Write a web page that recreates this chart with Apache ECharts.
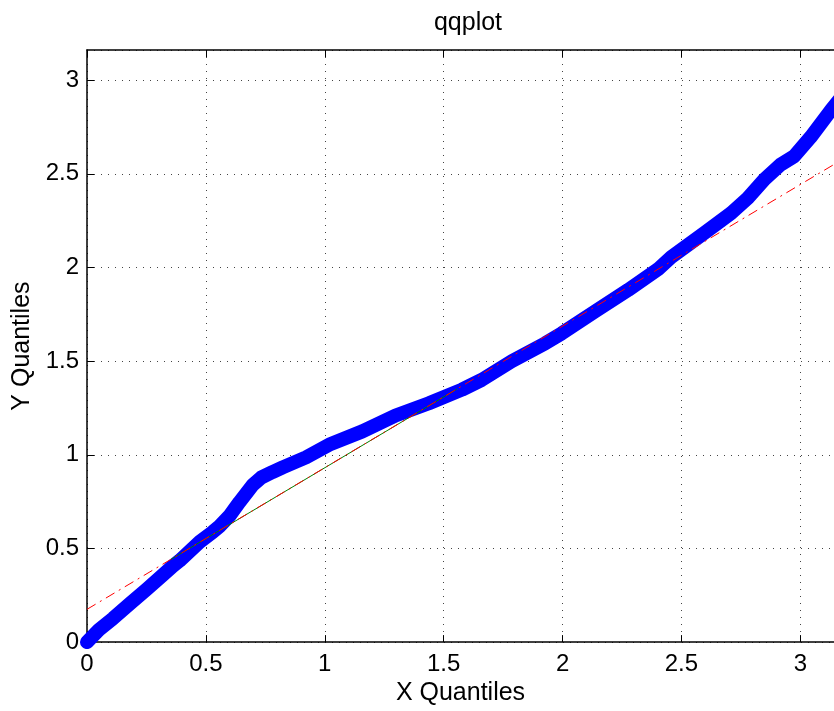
<!DOCTYPE html>
<html>
<head>
<meta charset="utf-8">
<script src="https://cdn.jsdelivr.net/npm/echarts@6/dist/echarts.min.js"></script>
<style>
  html, body { margin: 0; padding: 0; background: #fff; }
  #chart { width: 834px; height: 711px; }
</style>
</head>
<body>
<div id="chart"></div>
<script>
// Sample quantiles (x = theoretical, y = observed)
const sampleX = [0.000, 0.050, 0.110, 0.180, 0.250, 0.320, 0.360, 0.390, 0.474, 0.529, 0.557, 0.600, 0.641, 0.697, 0.732, 0.780, 0.823, 0.921, 1.025, 1.158, 1.298, 1.438, 1.577, 1.660, 1.787, 1.927, 1.996, 2.136, 2.276, 2.401, 2.457, 2.597, 2.709, 2.779, 2.849, 2.918, 2.974, 3.044, 3.128, 3.180];
const sampleY = [0.000, 0.065, 0.127, 0.205, 0.281, 0.360, 0.405, 0.435, 0.535, 0.588, 0.618, 0.675, 0.747, 0.839, 0.878, 0.908, 0.933, 0.986, 1.058, 1.125, 1.210, 1.275, 1.348, 1.400, 1.500, 1.595, 1.648, 1.765, 1.880, 1.990, 2.055, 2.185, 2.290, 2.370, 2.470, 2.550, 2.594, 2.697, 2.838, 2.920];

// Reference line through the first and third quartiles
const quartileX = [0.351, 1.556];
const quartileY = [0.440, 1.351];

// Same line extended across the whole x range
const extendedX = [0, 3.1416];
const extendedY = [0.175, 2.550];

// Axis settings
const xRange = [0, 3.1416];
const yRange = [0, 3.161];
const tickStep = 0.5;

const zip = (xs, ys) => xs.map((x, i) => [x, ys[i]]);

const FONT = 'Liberation Sans, Arial, Helvetica, sans-serif';
const gridLine = { show: true, lineStyle: { color: '#444', width: 1, type: [1, 6] } };
const tickLabelFmt = v => (Math.abs(v / tickStep - Math.round(v / tickStep)) < 1e-6 ? String(+v.toFixed(2)) : '');

const chart = echarts.init(document.getElementById('chart'), null, { renderer: 'canvas' });

chart.setOption({
  animation: false,
  backgroundColor: '#ffffff',
  title: {
    text: 'qqplot',
    left: 463,
    top: 6,
    textAlign: 'center',
    textStyle: { fontFamily: FONT, fontSize: 25, fontWeight: 'normal', color: '#000' }
  },
  grid: { left: 87, top: 50, right: -2.5, bottom: 66.5, containLabel: false },
  xAxis: [
    {
      type: 'value', position: 'bottom',
      min: xRange[0], max: xRange[1], interval: tickStep,
      name: 'X Quantiles', nameLocation: 'middle', nameGap: 33,
      nameTextStyle: { fontFamily: FONT, fontSize: 25, color: '#000' },
      axisLine: { show: true, onZero: false, lineStyle: { color: '#000', width: 1.5 } },
      axisTick: { show: true, inside: true, length: 7, lineStyle: { color: '#000' } },
      axisLabel: { fontFamily: FONT, fontSize: 24, color: '#000', margin: 10, showMaxLabel: false, formatter: tickLabelFmt },
      splitLine: gridLine
    },
    {
      type: 'value', position: 'top',
      min: xRange[0], max: xRange[1], interval: tickStep,
      axisLine: { show: true, onZero: false, lineStyle: { color: '#000', width: 1.5 } },
      axisTick: { show: true, inside: true, length: 7, lineStyle: { color: '#000' } },
      axisLabel: { show: false },
      splitLine: { show: false }
    }
  ],
  yAxis: {
    type: 'value',
    min: yRange[0], max: yRange[1], interval: tickStep,
    name: 'Y Quantiles', nameLocation: 'middle', nameGap: 52,
    nameTextStyle: { fontFamily: FONT, fontSize: 25, color: '#000' },
    axisLine: { show: true, onZero: false, lineStyle: { color: '#000', width: 1.5 } },
    axisTick: { show: true, inside: true, length: 7, lineStyle: { color: '#000' } },
    axisLabel: { fontFamily: FONT, fontSize: 24, color: '#000', margin: 8, showMaxLabel: false, formatter: tickLabelFmt },
    splitLine: gridLine
  },
  series: [
    {
      name: 'data', type: 'line', xAxisIndex: 0,
      data: zip(sampleX, sampleY),
      showSymbol: false, smooth: false, clip: true,
      lineStyle: { color: '#0000ff', width: 14, cap: 'round', join: 'round' }
    },
    {
      name: 'quartiles', type: 'line', xAxisIndex: 0,
      data: zip(quartileX, quartileY),
      showSymbol: false,
      lineStyle: { color: '#008000', width: 1 }
    },
    {
      name: 'fit', type: 'line', xAxisIndex: 0,
      data: zip(extendedX, extendedY),
      showSymbol: false,
      lineStyle: { color: '#ff0000', width: 1, type: [10, 5, 2, 5] }
    }
  ]
});
</script>
</body>
</html>
